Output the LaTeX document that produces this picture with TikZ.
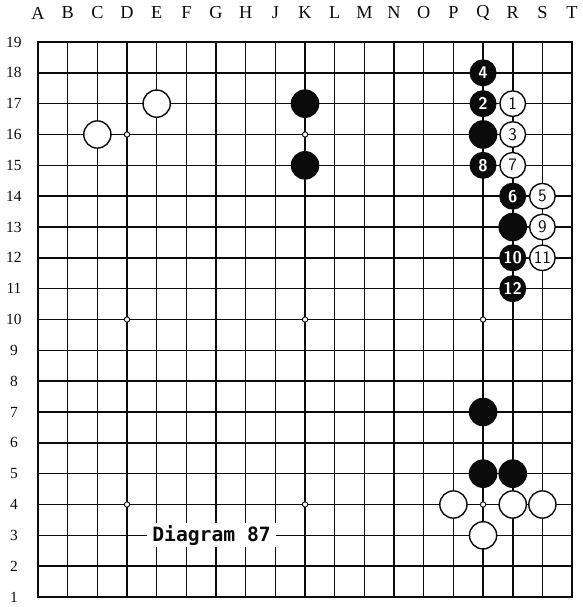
\documentclass[tikz,border=0pt]{standalone}
\usepackage{fontspec}
\setmainfont{Liberation Serif}
\newfontfamily\diagfont{DejaVu Sans Mono}
\usepackage{xcolor}
\usetikzlibrary{positioning}
\definecolor{ink}{HTML}{0b0b0b}

\begin{document}
\begin{tikzpicture}[x=0.7417cm,y=0.7708cm,
  gridline/.style={line width=1.1pt,draw=ink},
  border/.style={line width=1.6pt,draw=ink},
  hoshi/.style={circle,draw=ink,fill=white,line width=0.7pt,inner sep=0pt,minimum size=3.8pt},
  bstone/.style={circle,draw=ink,fill=ink,line width=1pt,inner sep=0pt,minimum size=0.68cm},
  wstone/.style={circle,draw=ink,fill=white,line width=1pt,inner sep=0pt,minimum size=0.68cm},
  bmove/.style={bstone,minimum size=0.64cm,text=white,font=\sffamily\bfseries\fontsize{12}{12}\selectfont},
  wmove/.style={wstone,minimum size=0.64cm,text=ink,font=\sffamily\fontsize{12.5}{12}\selectfont},
  coordlbl/.style={text=ink,font=\fontsize{13}{13}\selectfont}]
  \useasboundingbox (-0.281,0.676) rectangle (19.336,20.362);
  % board
  \foreach \i in {1,...,19} {
    \draw[gridline] (\i,1) -- (\i,19);
    \draw[gridline] (1,\i) -- (19,\i);
  }
  \draw[border] (1,1) rectangle (19,19);
  \foreach \x in {4,10,16} \foreach \y in {4,10,16} \node[hoshi] (star\x-\y) at (\x,\y) {};
  % coordinates
  \foreach \c [count=\i] in {A,B,C,D,E,F,G,H,J,K,L,M,N,O,P,Q,R,S,T}
    \node[coordlbl] (col\c) at (\i,19.94) {\c};
  \foreach \r in {1,...,19}
    \node[coordlbl,font=\fontsize{11}{11}\selectfont] (row\r) at (0.19,\r) {\r};
  % stones on the board
  \foreach \x/\y/\n in {5/17/e17,3/16/c16,15/4/p4,17/4/r4,18/4/s4,16/3/q3}
    \node[wstone] (\n) at (\x,\y) {};
  \foreach \x/\y/\n in {10/17/k17,10/15/k15,16/16/q16,17/13/r13,16/7/q7,16/5/q5,17/5/r5}
    \node[bstone] (\n) at (\x,\y) {};
  % the moves
  \foreach \x/\y/\m in {16/17/2,16/18/4,17/14/6,16/15/8,17/12/10,17/11/12}
    \node[bmove] (b\m) at (\x,\y) {\m};
  \foreach \x/\y/\m in {17/17/1,17/16/3,18/14/5,17/15/7,18/13/9,18/12/11}
    \node[wmove] (w\m) at (\x,\y) {\m};
  \node[fill=white,inner xsep=4pt,inner ysep=1.5pt,text=ink,
    font=\diagfont\bfseries\fontsize{14}{14}\selectfont] (title) at (6.85,3) {Diagram 87};
\end{tikzpicture}
\end{document}
